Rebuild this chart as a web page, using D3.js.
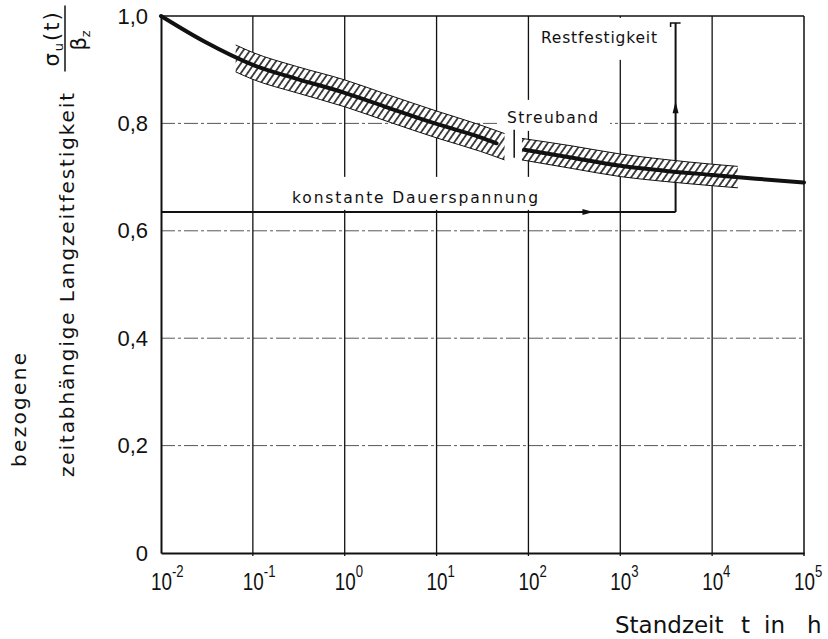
<!DOCTYPE html>
<html>
<head>
<meta charset="utf-8">
<script src="https://cdn.jsdelivr.net/npm/d3@7"></script>
<style>
  body { margin: 0; background: #fff; }
  svg { display: block; }
</style>
</head>
<body>
<div id="chart"></div>
<script>
// x axis: Standzeit t in h (log), y axis: bezogene Langzeitfestigkeit
const decades = [1e-2, 1e-1, 1e0, 1e1, 1e2, 1e3, 1e4, 1e5];
const decadeExp = ['-2', '-1', '0', '1', '2', '3', '4', '5'];
const strengthTicks = [0, 0.2, 0.4, 0.6, 0.8, 1.0];

// mean curve, two pieces (gap at the Streuband mark)
const curveTimeA = [0.01, 0.03, 0.1, 0.3, 1, 3, 10, 30, 45];
const curveValA = [1.000, 0.952, 0.909, 0.883, 0.857, 0.829, 0.799, 0.774, 0.763];
const curveTimeB = [90, 300, 1000, 3000, 10000, 30000, 100000];
const curveValB = [0.751, 0.736, 0.721, 0.712, 0.704, 0.697, 0.690];

// scatter band edges
const bandTimeA = [0.065, 0.1, 0.3, 1, 3, 10, 30, 55];
const bandHiA = [0.946, 0.932, 0.906, 0.881, 0.853, 0.823, 0.797, 0.781];
const bandLoA = [0.896, 0.882, 0.857, 0.831, 0.803, 0.773, 0.748, 0.732];
const bandTimeB = [85, 300, 1000, 3000, 10000, 19000];
const bandHiB = [0.772, 0.758, 0.743, 0.733, 0.724, 0.720];
const bandLoB = [0.732, 0.716, 0.701, 0.692, 0.684, 0.680];

// Streuband width mark
const markTime = 70;
const markRange = [0.736, 0.788];

// constant load until rupture, then residual strength
const constLoad = 0.635;
const ruptureTime = 4000;
const residualStrength = 0.987;
const loadArrowTime = 450;
const residualArrowVal = 0.83;

const width = 828, height = 639;
const margin = {top: 16, right: 24, bottom: 86, left: 161};

const x = d3.scaleLog().domain([1e-2, 1e5]).range([margin.left, width - margin.right]);
const y = d3.scaleLinear().domain([0, 1]).range([height - margin.bottom, margin.top]);

const svg = d3.select('#chart').append('svg')
    .attr('width', width)
    .attr('height', height);

// hatch for the band
svg.append('defs').append('pattern')
    .attr('id', 'hatch')
    .attr('patternUnits', 'userSpaceOnUse')
    .attr('width', 5.5)
    .attr('height', 10)
    .attr('patternTransform', 'rotate(35)')
    .append('line')
    .attr('x1', 2.75).attr('y1', 0).attr('x2', 2.75).attr('y2', 10)
    .attr('stroke', '#111').attr('stroke-width', 1.5);

// grid
svg.append('g').selectAll('line')
    .data(strengthTicks.filter(v => v > 0 && v < 1))
    .join('line')
    .attr('x1', x(1e-2)).attr('x2', x(1e5))
    .attr('y1', d => y(d)).attr('y2', d => y(d))
    .attr('stroke', '#444')
    .attr('stroke-width', 0.9)
    .attr('stroke-dasharray', '14,3,3,3');

svg.append('g').selectAll('line')
    .data(decades.slice(1, -1))
    .join('line')
    .attr('x1', d => x(d)).attr('x2', d => x(d))
    .attr('y1', y(0) + 3).attr('y2', y(1))
    .attr('stroke', '#111')
    .attr('stroke-width', 1.3);

// load path
const load = svg.append('g').attr('stroke', '#111').attr('stroke-width', 2).attr('fill', 'none');
load.append('line')
    .attr('x1', x(1e-2)).attr('x2', x(ruptureTime))
    .attr('y1', y(constLoad)).attr('y2', y(constLoad));
load.append('line')
    .attr('x1', x(ruptureTime)).attr('x2', x(ruptureTime))
    .attr('y1', y(constLoad)).attr('y2', y(residualStrength));
load.append('path')
    .attr('stroke-width', 1.5)
    .attr('d', `M${x(ruptureTime) - 5},${y(residualStrength) + 4}V${y(residualStrength)}H${x(ruptureTime) + 5}`);

const ax = x(loadArrowTime), ay = y(constLoad);
svg.append('path').attr('fill', '#111')
    .attr('d', `M${ax + 5},${ay}L${ax - 6},${ay - 3}L${ax - 6},${ay + 3}Z`);
const rx = x(ruptureTime), ry = y(residualArrowVal);
svg.append('path').attr('fill', '#111')
    .attr('d', `M${rx},${ry - 6}L${rx - 3},${ry + 6}L${rx + 3},${ry + 6}Z`);

// labels with white backing (they cut the grid)
function label(text, t, v, len, pad) {
    const g = svg.append('g');
    const bg = g.append('rect').attr('fill', '#fff');
    const txt = g.append('text')
        .attr('x', x(t)).attr('y', y(v))
        .attr('font-family', 'DejaVu Sans')
        .attr('font-size', 15.5)
        .attr('fill', '#111')
        .attr('textLength', len)
        .attr('lengthAdjust', 'spacing')
        .text(text);
    const b = txt.node().getBBox();
    bg.attr('x', b.x - pad[3]).attr('y', b.y - pad[0])
      .attr('width', b.width + pad[1] + pad[3])
      .attr('height', b.height + pad[0] + pad[2]);
}
label('Restfestigkeit', 137, 0.950, 116, [11, 6, 13, 6]);
label('Streuband', 58.5, 0.801, 91, [9, 12, 4, 7]);
label('konstante Dauerspannung', 0.267, 0.652, 246, [12, 6, 3, 6]);

// scatter band
function band(times, hi, lo) {
    const area = d3.area()
        .x((d, i) => x(times[i]))
        .y0((d, i) => y(lo[i]))
        .y1((d, i) => y(hi[i]))
        .curve(d3.curveMonotoneX);
    svg.append('path').datum(times).attr('d', area).attr('fill', '#fff');
    svg.append('path').datum(times).attr('d', area).attr('fill', 'url(#hatch)');
    [hi, lo].forEach(edge => {
        svg.append('path')
            .datum(times)
            .attr('d', d3.line().x((d, i) => x(times[i])).y((d, i) => y(edge[i])).curve(d3.curveMonotoneX))
            .attr('fill', 'none')
            .attr('stroke', '#111')
            .attr('stroke-width', 1);
    });
}
band(bandTimeA, bandHiA, bandLoA);
band(bandTimeB, bandHiB, bandLoB);

// mean curve
const curveLine = d3.line().x(d => x(d[0])).y(d => y(d[1])).curve(d3.curveMonotoneX);
[[curveTimeA, curveValA], [curveTimeB, curveValB]].forEach(([t, v]) => {
    svg.append('path')
        .datum(d3.zip(t, v))
        .attr('d', curveLine)
        .attr('fill', 'none')
        .attr('stroke', '#111')
        .attr('stroke-width', 4)
        .attr('stroke-linecap', 'round');
});

svg.append('line')
    .attr('x1', x(markTime)).attr('x2', x(markTime))
    .attr('y1', y(markRange[0])).attr('y2', y(markRange[1]))
    .attr('stroke', '#111').attr('stroke-width', 1.5);

// frame
svg.append('line')
    .attr('x1', x(1e-2)).attr('x2', x(1e5)).attr('y1', y(1)).attr('y2', y(1))
    .attr('stroke', '#111').attr('stroke-width', 1.5);
svg.append('line')
    .attr('x1', x(1e5)).attr('x2', x(1e5)).attr('y1', y(0) + 3).attr('y2', y(1))
    .attr('stroke', '#111').attr('stroke-width', 1.5);

// axes
const yAxis = d3.axisLeft(y)
    .tickValues(strengthTicks)
    .tickFormat(d => d === 0 ? '0' : d3.format('.1f')(d).replace('.', ','))
    .tickSize(0)
    .tickSizeOuter(0)
    .tickPadding(13);
svg.append('g')
    .attr('transform', `translate(${margin.left},0)`)
    .call(yAxis)
    .attr('font-family', 'Liberation Sans')
    .attr('font-size', 22)
    .call(g => g.select('.domain').attr('stroke', '#111').attr('stroke-width', 2))
    .call(g => g.selectAll('text').attr('fill', '#111'));

const xAxis = d3.axisBottom(x)
    .tickValues(decades)
    .tickFormat(() => '')
    .tickSize(0)
    .tickSizeOuter(0);
svg.append('g')
    .attr('transform', `translate(0,${y(0)})`)
    .call(xAxis)
    .attr('font-family', 'Liberation Sans')
    .attr('font-size', 23)
    .call(g => g.select('.domain').attr('stroke', '#111').attr('stroke-width', 2))
    .call(g => g.selectAll('.tick text')
        .attr('y', 37)
        .attr('dy', null)
        .attr('x', -12.8)
        .attr('text-anchor', 'start')
        .attr('transform', 'scale(0.82,1)')
        .attr('fill', '#111')
        .each(function (d, i) {
            const t = d3.select(this);
            t.append('tspan').text('10');
            t.append('tspan').attr('font-size', 16).attr('dy', -13).text(decadeExp[i]);
        }));

// axis titles
const xTitle = svg.append('g')
    .attr('font-family', 'DejaVu Sans')
    .attr('font-size', 23)
    .attr('fill', '#111');
[['Standzeit', 615], ['t', 741], ['in', 764], ['h', 807]].forEach(([s, px]) => {
    xTitle.append('text').attr('x', px).attr('y', 633).text(s);
});

svg.append('text')
    .attr('transform', 'translate(26,410) rotate(-90)')
    .attr('text-anchor', 'middle')
    .attr('font-family', 'DejaVu Sans')
    .attr('font-size', 20)
    .attr('fill', '#111')
    .attr('textLength', 114)
    .attr('lengthAdjust', 'spacing')
    .text('bezogene');

svg.append('text')
    .attr('transform', 'translate(74,285) rotate(-90)')
    .attr('text-anchor', 'middle')
    .attr('font-family', 'DejaVu Sans')
    .attr('font-size', 20)
    .attr('fill', '#111')
    .attr('textLength', 384)
    .attr('lengthAdjust', 'spacing')
    .text('zeitabhängige Langzeitfestigkeit');

// fraction sigma_u(t) / beta_z
const frac = svg.append('g')
    .attr('transform', 'translate(65,38.5) rotate(-90)')
    .attr('font-family', 'DejaVu Sans')
    .attr('fill', '#111');
frac.append('line')
    .attr('x1', -33).attr('x2', 33).attr('y1', 0).attr('y2', 0)
    .attr('stroke', '#111').attr('stroke-width', 1.5);
const num = frac.append('text')
    .attr('x', 0).attr('y', -6)
    .attr('text-anchor', 'middle')
    .attr('font-size', 21)
    .attr('letter-spacing', 2);
num.append('tspan').text('σ');
num.append('tspan').attr('font-size', 13).attr('dy', 4).text('u');
num.append('tspan').attr('dy', -4).text('(t)');
const den = frac.append('text')
    .attr('x', -2).attr('y', 21)
    .attr('text-anchor', 'middle')
    .attr('font-size', 21);
den.append('tspan').text('β');
den.append('tspan').attr('font-size', 13).attr('dy', 4).text('z');
</script>
</body>
</html>
